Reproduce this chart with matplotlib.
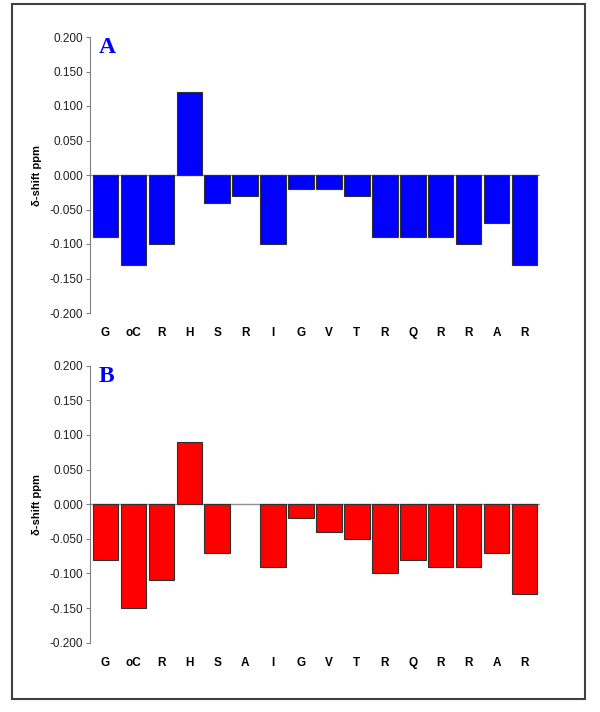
import numpy as np
import matplotlib
matplotlib.use('Agg')
import matplotlib.pyplot as plt
from matplotlib.patches import Rectangle

plt.rcParams['font.family'] = ['Liberation Sans', 'DejaVu Sans']

labels_a = ['G', 'oC', 'R', 'H', 'S', 'R', 'I', 'G', 'V', 'T', 'R', 'Q', 'R', 'R', 'A', 'R']
shift_a = [-0.09, -0.13, -0.10, 0.12, -0.04, -0.03, -0.10, -0.02, -0.02, -0.03,
           -0.09, -0.09, -0.09, -0.10, -0.07, -0.13]

labels_b = ['G', 'oC', 'R', 'H', 'S', 'A', 'I', 'G', 'V', 'T', 'R', 'Q', 'R', 'R', 'A', 'R']
shift_b = [-0.08, -0.15, -0.11, 0.09, -0.07, 0.0, -0.09, -0.02, -0.04, -0.05,
           -0.10, -0.08, -0.09, -0.09, -0.07, -0.13]

yticks = [-0.2, -0.15, -0.1, -0.05, 0.0, 0.05, 0.1, 0.15, 0.2]

fig = plt.figure(figsize=(6, 7.12), dpi=100)

# outer frame
fig.patches.append(Rectangle((12/600, 1-699/712), 573/600, 695/712, transform=fig.transFigure,
                             fill=False, edgecolor='#404040', linewidth=1.5))

def panel(rect, labels, vals, color, letter):
    ax = fig.add_axes(rect)
    x = np.arange(len(vals))
    v = np.array(vals)
    keep = v != 0
    ax.bar(x[keep], v[keep], width=0.91, color=color, edgecolor='#303030', linewidth=0.8, zorder=3)
    ax.axhline(0, color='#909090', linewidth=1.0, zorder=2)
    ax.set_xlim(-0.55, len(vals) - 0.45)
    ax.set_ylim(-0.2, 0.2)
    ax.set_yticks(yticks)
    ax.set_yticklabels(['%.3f' % t for t in yticks], fontsize=8.5, color='#202020')
    ax.set_xticks(x)
    ax.set_xticklabels(labels, fontsize=8.5, fontweight='bold')
    ax.tick_params(axis='x', length=0, pad=10)
    ax.tick_params(axis='y', length=3, color='#808080', width=0.8, pad=2)
    for s in ['top', 'right', 'bottom']:
        ax.spines[s].set_visible(False)
    ax.spines['left'].set_color('#808080')
    ax.set_ylabel('δ-shift ppm', fontsize=8, fontweight='bold', labelpad=5)
    ax.text(0.02, 1.0, letter, transform=ax.transAxes, ha='left', va='top',
            fontsize=17, fontweight='bold', color='#0000ff', family='Liberation Serif')
    return ax

panel([0.15, 1-313/712, 0.75, 276/712], labels_a, shift_a, '#0000ff', 'A')
panel([0.15, 1-642.7/712, 0.75, 277/712], labels_b, shift_b, '#ff0000', 'B')

fig.savefig('out.png', dpi=100)
